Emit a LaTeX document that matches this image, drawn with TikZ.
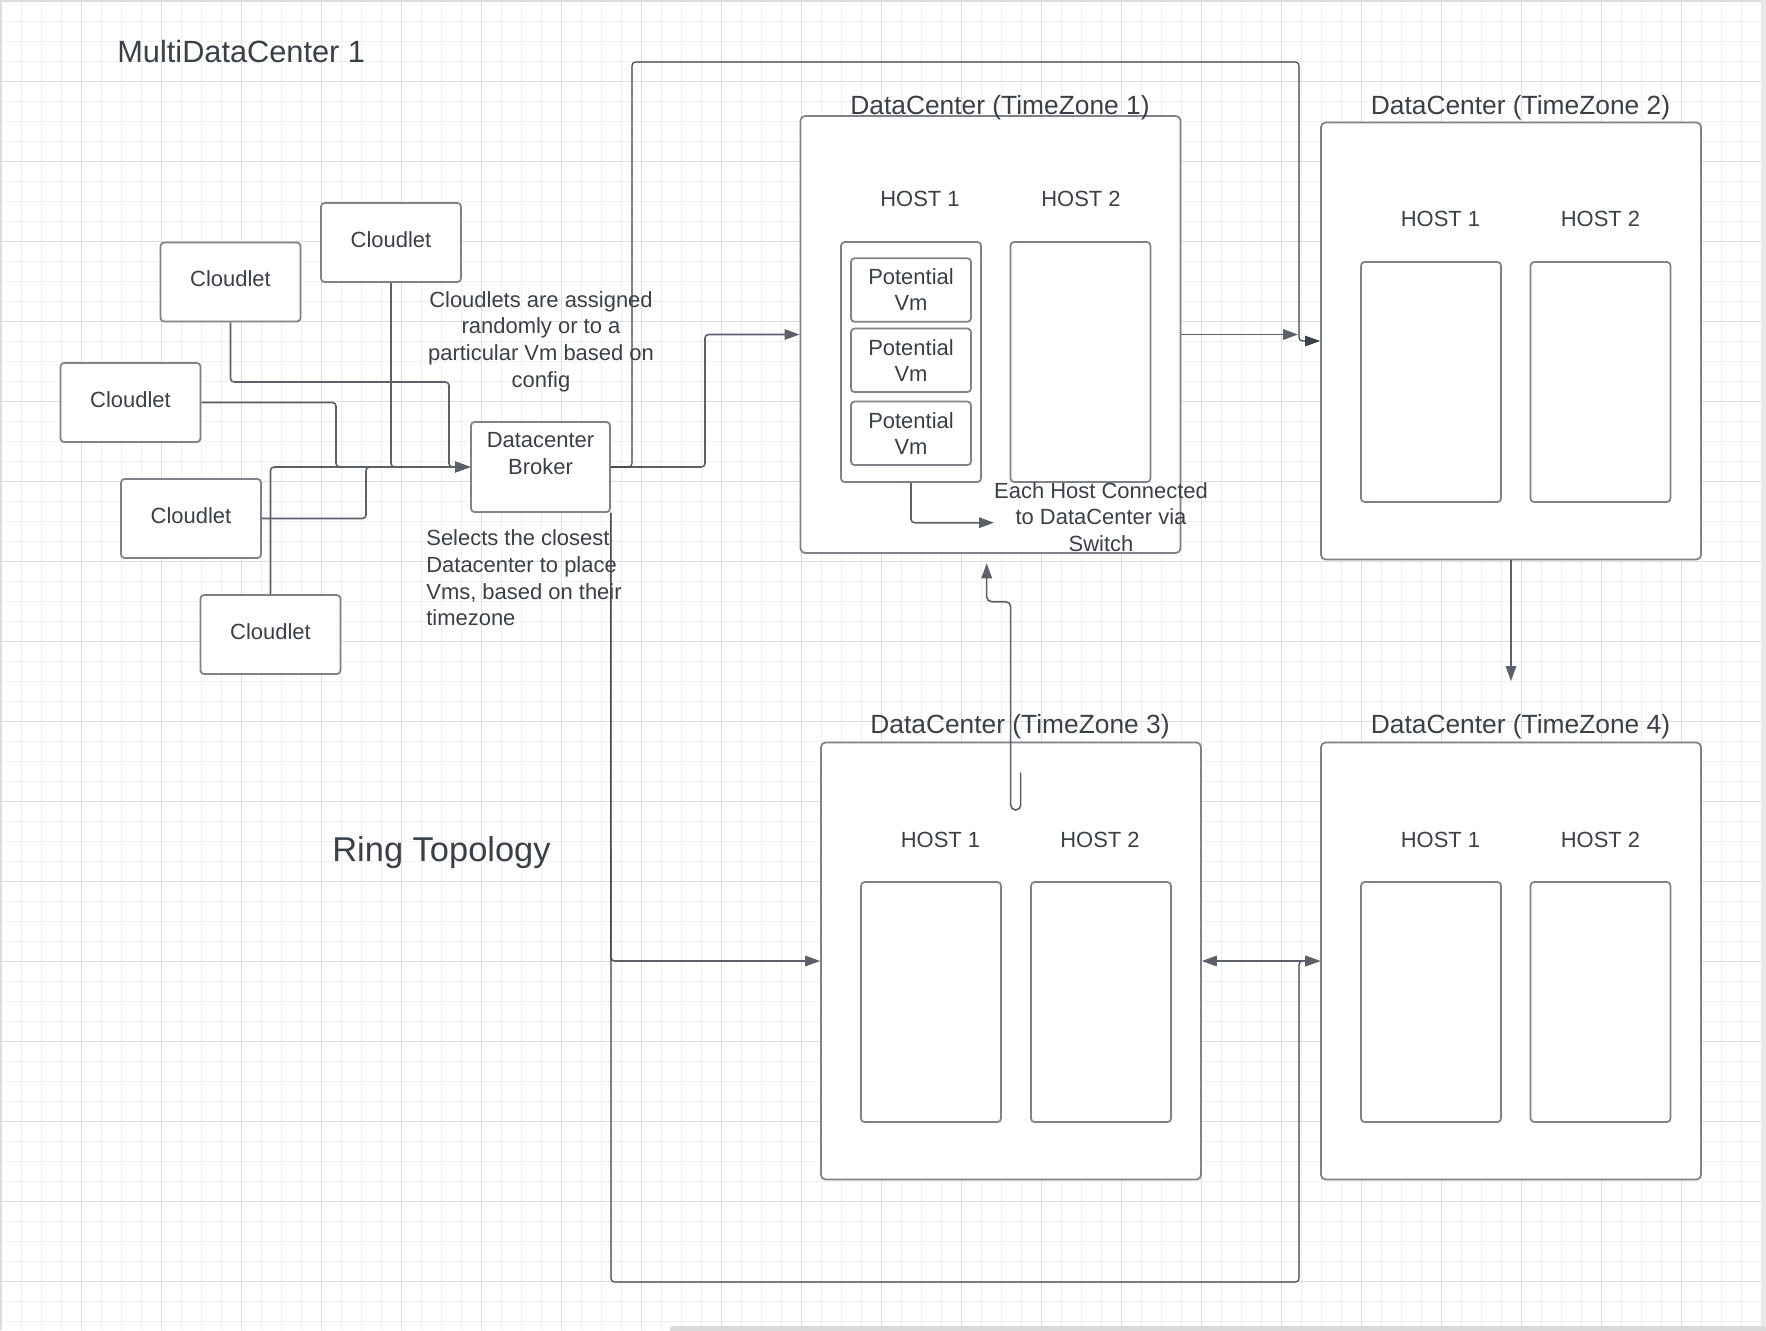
\documentclass[tikz,border=0pt]{standalone}
\usepackage{fontspec}
\setmainfont{Liberation Sans}
\usepackage{tikz}
\usetikzlibrary{arrows.meta, calc}
\definecolor{mytext}{RGB}{58,64,72}
\definecolor{myline}{RGB}{92,96,104}
\definecolor{myborder}{RGB}{128,130,138}
\definecolor{myminor}{RGB}{240,240,240}
\definecolor{mymajor}{RGB}{221,221,221}
\tikzstyle{plainbox} = [draw=myborder, fill=white, line width=1pt, rounded corners=2pt,
    minimum width=2.8cm, minimum height=1.58cm, text=mytext,
    font=\fontsize{12.5}{15}\selectfont, align=center]
\tikzstyle{cloudlet} = [plainbox, text height=0.32cm, text depth=0.136cm]
\tikzstyle{brokerbox} = [plainbox, minimum width=2.78cm, minimum height=1.8cm]
\tikzstyle{dcbox} = [draw=myborder, fill=white, line width=1pt, rounded corners=2.5pt,
    minimum width=7.6cm, minimum height=8.74cm]
\tikzstyle{hostbox} = [plainbox, minimum width=2.8cm, minimum height=4.8cm]
\tikzstyle{vmbox} = [plainbox, minimum width=2.4cm, minimum height=1.27cm, inner sep=0,
    font=\fontsize{12.5}{14.8}\selectfont]
\tikzstyle{txt} = [text=mytext, inner sep=0, align=center, font=\fontsize{12.5}{15.2}\selectfont]
\tikzstyle{dctitle} = [txt, font=\fontsize{15}{18}\selectfont]
\tikzstyle{note} = [txt, font=\fontsize{12.5}{15.2}\selectfont]
\tikzstyle{conn} = [draw=myline, line width=0.9pt, rounded corners=2pt]
\tikzstyle{ring} = [draw=mytext, line width=0.65pt, rounded corners=2pt]
\tikzstyle{arr} = [-{Triangle[length=0.3cm, width=0.21cm]}]
\tikzstyle{arrs} = [{Triangle[length=0.3cm, width=0.21cm]}-{Triangle[length=0.3cm, width=0.21cm]}]

\begin{document}
\begin{tikzpicture}[x=0.02cm, y=-0.02cm]

\useasboundingbox (0,0) rectangle (1766,1330);

%%% grid
\begin{scope}
\clip (0,0) rectangle (1766,1330);
\fill[white] (0,0) rectangle (1766,1330);
\foreach \i in {0,...,88} \draw[myminor, line width=0.6pt] (1.7+20*\i,0) -- (1.7+20*\i,1330);
\foreach \i in {0,...,66} \draw[myminor, line width=0.6pt] (0,1.7+20*\i) -- (1766,1.7+20*\i);
\foreach \i in {0,...,22} \draw[mymajor, line width=0.6pt] (1.7+80*\i,0) -- (1.7+80*\i,1330);
\foreach \i in {0,...,16} \draw[mymajor, line width=0.6pt] (0,1.7+80*\i) -- (1766,1.7+80*\i);
\draw[mymajor, line width=1.2pt] (0,1330) -- (0,0) -- (1766,0);
\fill[black!9] (1761,0) rectangle (1766,1330);
\fill[black!15, rounded corners=2pt] (670,1326) rectangle (1766,1334);
\end{scope}

\node[txt, anchor=west, font=\fontsize{17.5}{21}\selectfont] (multi) at (117,52) {MultiDataCenter 1};
\node[txt, font=\fontsize{19.6}{23}\selectfont] (ringtxt) at (441.5,853) {Ring Topology};

%%% cloudlets
\node[cloudlet] (cl1) at (391,242.5) {Cloudlet};
\node[cloudlet] (cl2) at (230.5,282) {Cloudlet};
\node[cloudlet] (cl3) at (130.5,402.5) {Cloudlet};
\node[cloudlet] (cl4) at (191,518.5) {Cloudlet};
\node[cloudlet] (cl5) at (270.5,634.5) {Cloudlet};

\node[brokerbox] (broker) at (540.5,467) {};
\node[txt] (brokertxt) at (540.5,453.5) {Datacenter\\Broker};

\node[note] (assign) at (541,341.5) {Cloudlets are assigned\\randomly or to a\\particular Vm based on\\config};
\node[note, anchor=west, align=left] (selects) at (426,578) {Selects the closest\\Datacenter to place\\Vms, based on their\\timezone};

%%% datacenters
\node[dcbox] (dc1) at (990.5,334.5) {};
\node[dcbox] (dc2) at (1511,341) {};
\node[dcbox] (dc3) at (1011,961) {};
\node[dcbox] (dc4) at (1511,961) {};

\node[dctitle] (dc1t) at (1000,107.5) {DataCenter (TimeZone 1)};
\node[dctitle] (dc2t) at (1520.5,107.5) {DataCenter (TimeZone 2)};
\node[dctitle] (dc3t) at (1020,727) {DataCenter (TimeZone 3)};
\node[dctitle] (dc4t) at (1520.5,727) {DataCenter (TimeZone 4)};

%%% hosts
\node[txt] (h1t1) at (920,199) {HOST 1};
\node[txt] (h1t2) at (1081,199) {HOST 2};
\node[hostbox] (h11) at (911,362) {};
\node[hostbox] (h12) at (1080.5,362) {};
\node[vmbox] (vm1) at (911,290) {Potential\\Vm};
\node[vmbox] (vm2) at (911,360.3) {Potential\\Vm};
\node[vmbox] (vm3) at (911,433.3) {Potential\\Vm};

\node[txt] (h2t1) at (1440.5,219) {HOST 1};
\node[txt] (h2t2) at (1600.5,219) {HOST 2};
\node[hostbox] (h21) at (1431,382) {};
\node[hostbox] (h22) at (1600.5,382) {};

\node[txt] (h3t1) at (940.5,839.5) {HOST 1};
\node[txt] (h3t2) at (1100,839.5) {HOST 2};
\node[hostbox] (h31) at (931,1002) {};
\node[hostbox] (h32) at (1101,1002) {};

\node[txt] (h4t1) at (1440.5,839.5) {HOST 1};
\node[txt] (h4t2) at (1600.5,839.5) {HOST 2};
\node[hostbox] (h41) at (1431,1002) {};
\node[hostbox] (h42) at (1600.5,1002) {};

%%% switch
\coordinate (sw) at (994,522.7);
\draw[conn, arr] (h11.south) |- (sw);
\node[txt] (swtxt) at (1101,517) {Each Host Connected\\to DataCenter via\\Switch};

%%% cloudlets to broker
\draw[conn, arr] (cl1.south) |- (broker.west);
\draw[conn, arr] (cl2.south) |- (449,382) |- (broker.west);
\draw[conn, arr] (cl3.east) -- (336,402.5) |- (broker.west);
\draw[conn, arr] (cl4.east) -- (366,518.5) |- (broker.west);
\draw[conn, arr] (cl5.north) |- (broker.west);

%%% broker to datacenters
\draw[conn, arr] (broker.east) -- (705,467) |- (dc1.west);
\draw[ring, arr] (broker.east) -- (632,467) -- (632,62) -- (1299,62) |- (dc2.west);
\draw[conn, arr] (broker.south east) |- (dc3.west);
\draw[ring, arr] (broker.south east) -- (611,1282) -- (1299,1282) |- (dc4.west);

%%% ring
\coordinate (j1) at (1298,334.5);
\coordinate (j2) at (1511,681);
\coordinate (hookstart) at (1020.7,772.7);
\coordinate (hookend) at (986.7,563.3);
\draw[conn, arr] (dc1.east) -- (j1);
\draw[conn, arr] (dc2.south) -- (j2);
\draw[conn, arrs] (dc3.east) -- (dc4.west);
\draw[conn, arr, rounded corners=2.8pt] (hookstart) -- (1020.7,810) -- (1010.7,810) -- (1010.7,601.7) -- (986.7,601.7) -- (hookend);

\end{tikzpicture}
\end{document}
